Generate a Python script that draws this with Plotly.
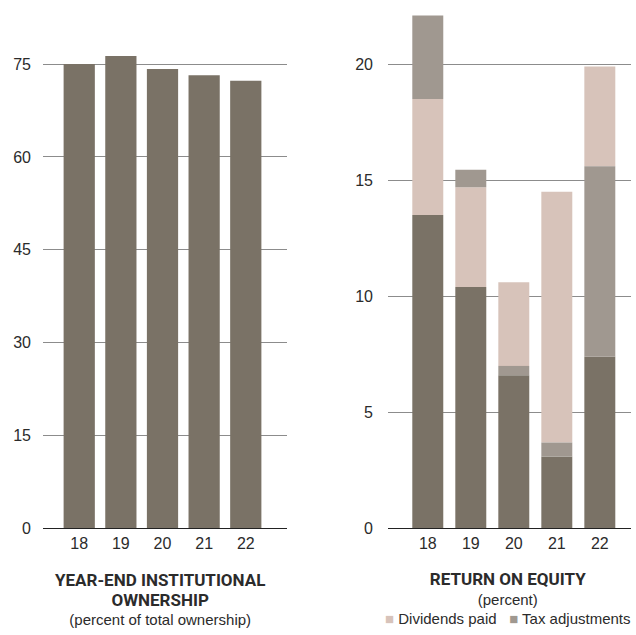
import plotly.graph_objects as go

# Shared category labels (fiscal years)
years = ["18", "19", "20", "21", "22"]

# Left panel: year-end institutional ownership (% of total)
ownership = [75.0, 76.3, 74.2, 73.2, 72.3]

# Right panel: return on equity components (percent)
roe_base = [13.5, 10.4, 6.6, 3.1, 7.4]
dividends = [5.0, 4.3, 3.6, 10.8, 4.3]
tax_adj = [3.6, 0.75, 0.4, 0.6, 8.2]
# whether the tax segment sits directly on the base (below dividends)
tax_below = [False, False, True, True, True]

DARK = "#7a7266"
PINK = "#d7c3ba"
TAXC = "#a09890"
TXT = "#2b2b2b"
BODY_FONT = "Liberation Sans"
HEAD_FONT = "Roboto"

# Segment bases for the right panel stacks
div_base, tax_base = [], []
for b, d, t, below in zip(roe_base, dividends, tax_adj, tax_below):
    if below:
        tax_base.append(b)
        div_base.append(b + t)
    else:
        div_base.append(b)
        tax_base.append(b + d)

fig = go.Figure()

fig.add_trace(go.Bar(x=years, y=ownership, marker_color=DARK, width=0.75,
                     xaxis="x", yaxis="y", showlegend=False))

fig.add_trace(go.Bar(x=years, y=roe_base, marker_color=DARK, width=0.72,
                     xaxis="x2", yaxis="y2", showlegend=False))
fig.add_trace(go.Bar(x=years, y=dividends, base=div_base, marker_color=PINK, width=0.72,
                     xaxis="x2", yaxis="y2", name="Dividends paid", showlegend=False))
fig.add_trace(go.Bar(x=years, y=tax_adj, base=tax_base, marker_color=TAXC, width=0.72,
                     xaxis="x2", yaxis="y2", name="Tax adjustments", showlegend=False))

for tr in fig.data:
    tr.marker.line.width = 0

W, H = 636.0, 635.0


def px_x(px):
    return px / W


def py(px):
    return 1 - px / H


axis_common = dict(showgrid=False, zeroline=False, showline=True, linecolor="#222",
                   linewidth=1.3, ticks="", tickfont=dict(family=BODY_FONT, size=16, color=TXT),
                   type="category", fixedrange=True)
yaxis_common = dict(showgrid=True, gridcolor="#8c8c8c", gridwidth=1.3, zeroline=False,
                    showline=False, ticks="", tickfont=dict(family=BODY_FONT, size=16, color=TXT),
                    fixedrange=True, domain=[py(536), py(10)])

fig.update_layout(
    width=636, height=635,
    margin=dict(l=0, r=0, t=0, b=0),
    paper_bgcolor="white", plot_bgcolor="white",
    barmode="overlay",
    xaxis=dict(**axis_common, domain=[px_x(43), px_x(287)], range=[-0.87, 4.99]),
    yaxis=dict(**yaxis_common, range=[0, 83.76], tickvals=[0, 15, 30, 45, 60, 75],
               ticklabelstandoff=11),
    xaxis2=dict(**axis_common, domain=[px_x(388), px_x(631)], range=[-0.925, 4.725]),
    yaxis2=dict(**yaxis_common, anchor="x2", range=[0, 22.34], tickvals=[0, 5, 10, 15, 20],
                ticklabelstandoff=14),
    showlegend=False,
)


def head(s):
    return f"<span style='font-family:{HEAD_FONT};font-size:17px'><b>{s}</b></span>"


left_caption = (head("YEAR-END INSTITUTIONAL") + "<br>" + head("OWNERSHIP") +
                "<br>(percent of total ownership)")
right_caption = (head("RETURN ON EQUITY") + "<br>(percent)<br>"
                 f"<span style='color:{PINK}'>■</span> Dividends paid   "
                 f"<span style='color:{TAXC}'>■</span> Tax adjustments")

fig.add_annotation(x=px_x(160), y=py(608), xref="paper", yref="paper", text=left_caption,
                   showarrow=False, xanchor="center", yanchor="middle", align="center",
                   font=dict(family=BODY_FONT, size=15, color=TXT))
fig.add_annotation(x=px_x(507), y=py(607), xref="paper", yref="paper", text=right_caption,
                   showarrow=False, xanchor="center", yanchor="middle", align="center",
                   font=dict(family=BODY_FONT, size=15, color=TXT))

fig.write_html("out.html")
